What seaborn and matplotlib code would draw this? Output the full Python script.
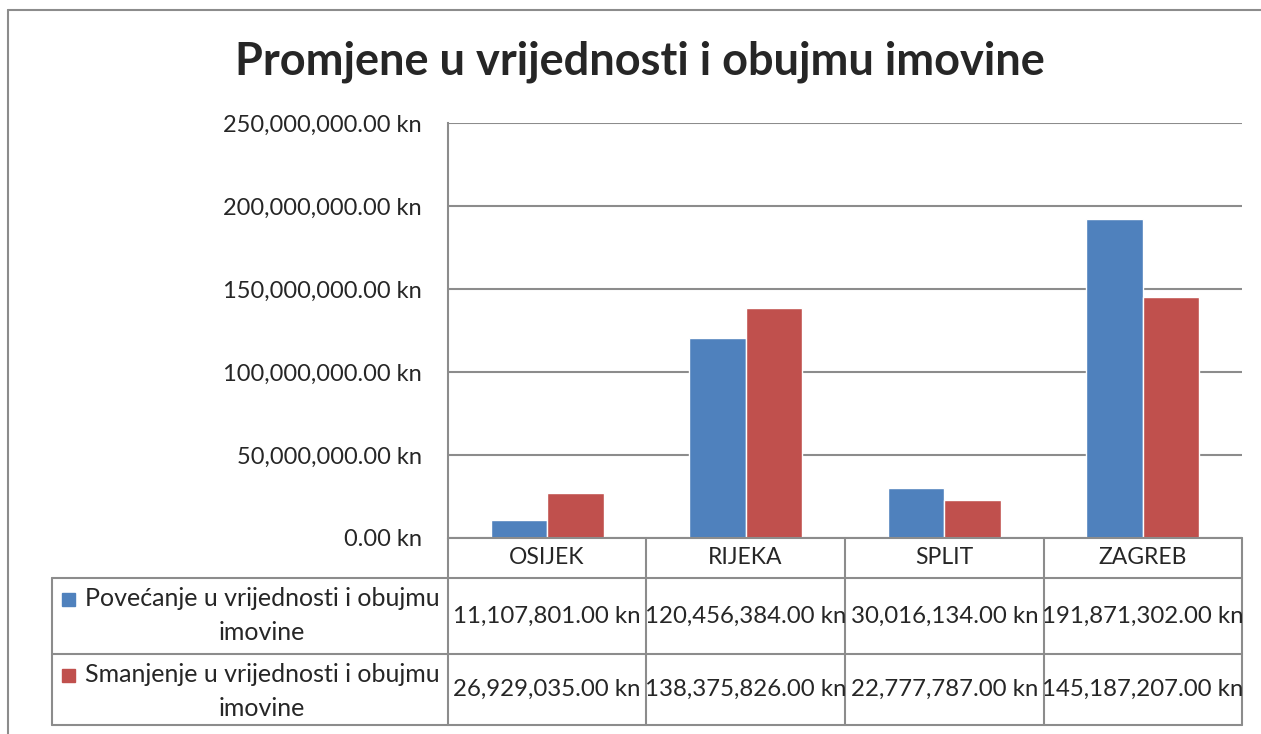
import pandas as pd
import seaborn as sns
import matplotlib.pyplot as plt
from matplotlib.lines import Line2D
from matplotlib.patches import Rectangle
from matplotlib.ticker import FuncFormatter

# podaci
gradovi = ['OSIJEK', 'RIJEKA', 'SPLIT', 'ZAGREB']
povecanje = [11107801.00, 120456384.00, 30016134.00, 191871302.00]
smanjenje = [26929035.00, 138375826.00, 22777787.00, 145187207.00]
serije = ['Povećanje u vrijednosti i obujmu imovine',
          'Smanjenje u vrijednosti i obujmu imovine']
boje = ['#4F81BD', '#C0504D']
y_ticks = [0, 50000000, 100000000, 150000000, 200000000, 250000000]

sns.set_style('white')
plt.rcParams['font.family'] = ['Lato', 'DejaVu Sans']

df = pd.DataFrame({
    'grad': gradovi * 2,
    'iznos': povecanje + smanjenje,
    'serija': [serije[0]] * 4 + [serije[1]] * 4,
})

W, H = 1261, 734
fig = plt.figure(figsize=(W / 100, H / 100), dpi=100)


def fx(x):
    return x / W


def fy(y):
    return 1 - y / H


# okvir grafikona
fig.add_artist(Line2D([fx(8), fx(8)], [fy(10), fy(734)], color='#8c8c8c', lw=1.5))
fig.add_artist(Line2D([fx(8), fx(1261)], [fy(10), fy(10)], color='#8c8c8c', lw=1.5))

x0, x1, y_top, y_bot = 448, 1242, 123, 538
ax = fig.add_axes([fx(x0), fy(y_bot), fx(x1 - x0), (y_bot - y_top) / H])

sns.barplot(data=df, x='grad', y='iznos', hue='serija', palette=boje,
            width=0.57, gap=0, saturation=1, legend=False, ax=ax)

ax.set_xlim(-0.5, 3.5)
ax.set_ylim(0, 250000000)
ax.set_yticks(y_ticks)
ax.yaxis.set_major_formatter(FuncFormatter(lambda v, p: f'{v:,.2f} kn'))
ax.tick_params(axis='y', labelsize=17, length=0, pad=19)
ax.set_xticks([])
ax.set_xlabel('')
ax.set_ylabel('')
ax.grid(axis='y', color='#8c8c8c', lw=1.5)
ax.set_axisbelow(True)
for s in ['top', 'right', 'bottom']:
    ax.spines[s].set_visible(False)
ax.spines['left'].set_color('#8c8c8c')
ax.spines['left'].set_linewidth(1.5)

fig.text(fx(640), fy(62), 'Promjene u vrijednosti i obujmu imovine',
         ha='center', va='center', fontsize=32.5, fontweight='bold')

# tablica podataka
kol = [448, 646, 845, 1044, 1242]
red = [538, 578, 654, 725]
lc = '#8c8c8c'
for x in kol:
    fig.add_artist(Line2D([fx(x), fx(x)], [fy(538), fy(725)], color=lc, lw=1.5))
fig.add_artist(Line2D([fx(52), fx(52)], [fy(578), fy(725)], color=lc, lw=1.5))
fig.add_artist(Line2D([fx(448), fx(1242)], [fy(538), fy(538)], color=lc, lw=1.5))
for y in red[1:]:
    fig.add_artist(Line2D([fx(52), fx(1242)], [fy(y), fy(y)], color=lc, lw=1.5))

for i, g in enumerate(gradovi):
    fig.text(fx((kol[i] + kol[i + 1]) / 2), fy(558), g,
             ha='center', va='center', fontsize=16.5)

for r, (vals, naziv, boja) in enumerate(zip([povecanje, smanjenje], serije, boje)):
    ya, yb = red[r + 1], red[r + 2]
    yc = (ya + yb) / 2
    for i, v in enumerate(vals):
        fig.text(fx((kol[i] + kol[i + 1]) / 2), fy(yc), f'{v:,.2f} kn',
                 ha='center', va='center', fontsize=17.3)
    prvi, drugi = naziv.rsplit(' ', 1)
    fig.text(fx(262), fy(ya + 21), prvi, ha='center', va='center', fontsize=18)
    fig.text(fx(262), fy(ya + 54), drugi, ha='center', va='center', fontsize=18)
    fig.add_artist(Rectangle((fx(62), fy(ya + 28)), fx(13), 13 / H,
                             color=boja, transform=fig.transFigure))

fig.savefig('out.png', dpi=100)
